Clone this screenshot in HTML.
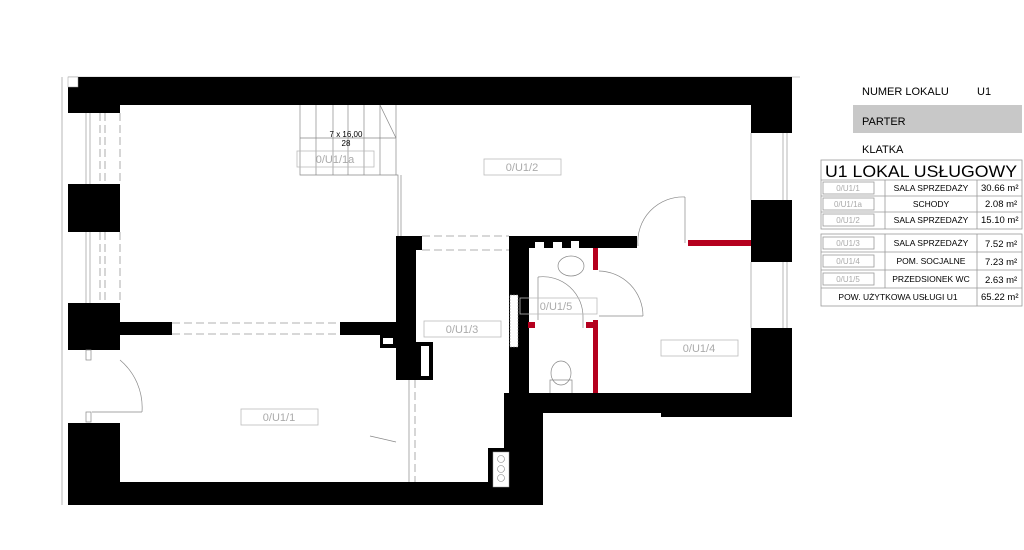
<!DOCTYPE html>
<html><head><meta charset="utf-8"><style>
body{margin:0;background:#fff;width:1024px;height:545px;overflow:hidden;font-family:"Liberation Sans",sans-serif}
</style></head><body>
<svg width="1024" height="545" viewBox="0 0 1024 545" xmlns="http://www.w3.org/2000/svg" font-family="Liberation Sans, sans-serif">
<line x1="68" y1="77" x2="800" y2="77" stroke="#999" stroke-width="0.6"/>
<g fill="#000">
<rect x="68" y="77" width="724" height="28"/>
<rect x="68" y="77" width="52" height="36"/>
<rect x="68" y="184" width="52" height="48"/>
<rect x="68" y="303" width="52" height="47"/>
<rect x="68" y="423" width="52" height="82"/>
<rect x="68" y="482" width="475" height="23"/>
<rect x="751" y="77" width="41" height="56"/>
<rect x="751" y="200" width="41" height="62"/>
<rect x="751" y="328" width="41" height="89"/>
<rect x="504" y="393" width="288" height="20"/>
<rect x="661" y="410" width="131" height="7"/>
<rect x="504" y="393" width="39" height="112"/>
<rect x="488" y="448" width="55" height="57"/>
<rect x="120" y="322" width="52" height="13"/>
<rect x="340" y="322" width="58" height="13"/>
<rect x="396" y="236" width="20" height="144"/>
<rect x="396" y="236" width="26" height="14"/>
<rect x="416" y="342" width="17" height="38"/>
<rect x="380" y="335" width="16" height="13"/>
<rect x="509" y="236" width="20" height="160"/>
<rect x="509" y="236" width="128" height="12"/>
</g>
<rect x="68" y="77" width="10" height="10" fill="#fff" stroke="#999" stroke-width="0.5"/>
<rect x="421" y="346" width="8" height="30" fill="#fff"/>
<rect x="383" y="338" width="10" height="6" fill="#fff"/>
<rect x="493" y="452" width="16" height="35" fill="#fff" stroke="#999" stroke-width="0.5"/>
<circle cx="501" cy="459" r="3.5" fill="none" stroke="#888" stroke-width="0.6"/>
<circle cx="501" cy="469" r="3.5" fill="none" stroke="#888" stroke-width="0.6"/>
<circle cx="501" cy="478" r="3.5" fill="none" stroke="#888" stroke-width="0.6"/>
<rect x="535" y="242" width="9" height="7" fill="#fff"/>
<rect x="553" y="242" width="9" height="7" fill="#fff"/>
<rect x="571" y="241" width="8" height="9" fill="#fff"/>
<rect x="510" y="295" width="8" height="52" fill="#fff" stroke="#888" stroke-width="0.5" stroke-dasharray="2 1"/>
<g stroke="#999" stroke-width="0.7" fill="none">
<line x1="86" y1="113" x2="86" y2="184"/><line x1="90" y1="113" x2="90" y2="184"/>
<line x1="86" y1="232" x2="86" y2="303"/><line x1="90" y1="232" x2="90" y2="303"/>
<line x1="62" y1="77" x2="62" y2="505"/>
<line x1="783" y1="133" x2="783" y2="200"/><line x1="787" y1="133" x2="787" y2="200"/>
<line x1="783" y1="262" x2="783" y2="328"/><line x1="787" y1="262" x2="787" y2="328"/>
<line x1="751" y1="133" x2="751" y2="200"/><line x1="751" y1="262" x2="751" y2="328"/>
</g>
<g stroke="#999" stroke-width="0.8" stroke-dasharray="8 4" fill="none">
<line x1="100" y1="113" x2="100" y2="184"/><line x1="105" y1="113" x2="105" y2="184"/><line x1="120" y1="113" x2="120" y2="184"/>
<line x1="100" y1="232" x2="100" y2="303"/><line x1="105" y1="232" x2="105" y2="303"/><line x1="120" y1="232" x2="120" y2="303"/>
<line x1="172" y1="323" x2="340" y2="323"/><line x1="172" y1="334" x2="340" y2="334"/>
<line x1="422" y1="236" x2="509" y2="236"/><line x1="422" y1="250" x2="509" y2="250"/>
<line x1="415" y1="380" x2="415" y2="482"/>
</g>
<g stroke="#888" stroke-width="0.7" fill="none">
<path d="M300 105 V175 H398 V236"/><line x1="401" y1="175" x2="401" y2="236"/>
<line x1="316" y1="105" x2="316" y2="175"/><line x1="333" y1="105" x2="333" y2="175"/>
<line x1="348" y1="105" x2="348" y2="175"/><line x1="364" y1="105" x2="364" y2="175"/>
<line x1="380" y1="105" x2="380" y2="175"/><line x1="396" y1="105" x2="396" y2="175"/>
<line x1="380" y1="105" x2="396" y2="138"/><line x1="300" y1="138" x2="396" y2="138"/>
<line x1="409" y1="380" x2="409" y2="482"/>
<line x1="370" y1="436" x2="396" y2="442"/>
<path d="M120 360 A62 62 0 0 1 142 412"/><line x1="92" y1="412" x2="142" y2="412"/>
<rect x="86" y="350" width="5" height="10"/><rect x="86" y="412" width="5" height="10"/>
<path d="M638 246 A45 45 0 0 1 685 197"/><line x1="685" y1="197" x2="685" y2="243"/>
<path d="M599 271 A45 45 0 0 1 643 316"/><line x1="599" y1="316" x2="643" y2="316"/>
<path d="M538 277 A40 40 0 0 1 583 318"/><line x1="538" y1="277" x2="538" y2="320"/><line x1="583" y1="318" x2="583" y2="328"/>
<ellipse cx="571" cy="266" rx="13" ry="10"/>
<ellipse cx="561" cy="373" rx="10" ry="12"/><path d="M550 393 V380 H572 V393"/>
</g>
<g fill="#b5001e">
<rect x="688" y="240" width="63" height="6"/>
<rect x="593" y="248" width="5" height="22"/>
<rect x="593" y="320" width="5" height="73"/>
<rect x="528" y="322" width="7" height="6"/>
<rect x="586" y="322" width="7" height="6"/>
</g>
<g fill="none" stroke="#bbb" stroke-width="0.8">
<rect x="297" y="151" width="77" height="16"/>
<rect x="484" y="159" width="77" height="16"/>
<rect x="424" y="321" width="77" height="16"/>
<rect x="520" y="298" width="77" height="16"/>
<rect x="661" y="340" width="77" height="16"/>
<rect x="241" y="409" width="77" height="16"/>
</g>
<g fill="#aaa" font-size="11" text-anchor="middle">
<text x="335" y="163">0/U1/1a</text>
<text x="522" y="171">0/U1/2</text>
<text x="462" y="333">0/U1/3</text>
<text x="556" y="310">0/U1/5</text>
<text x="699" y="352">0/U1/4</text>
<text x="279" y="421">0/U1/1</text>
</g>
<g fill="#000" font-size="8" text-anchor="middle">
<text x="346" y="137">7 x 16,00</text><text x="346" y="146">28</text>
</g>
<rect x="853" y="105" width="169" height="28" fill="#c8c8c8"/>
<g font-size="11" fill="#000">
<text x="862" y="95">NUMER LOKALU</text><text x="977" y="95">U1</text>
<text x="862" y="125">PARTER</text>
<text x="862" y="153">KLATKA</text>
</g>
<g fill="none" stroke="#999" stroke-width="0.8">
<rect x="821" y="160" width="201" height="69"/>
<line x1="821" y1="180" x2="1022" y2="180"/>
<line x1="821" y1="196" x2="1022" y2="196"/><line x1="821" y1="212" x2="1022" y2="212"/>
<line x1="885" y1="180" x2="885" y2="229"/><line x1="977" y1="180" x2="977" y2="229"/>
<rect x="821" y="234" width="201" height="72"/>
<line x1="821" y1="252" x2="1022" y2="252"/><line x1="821" y1="270" x2="1022" y2="270"/><line x1="821" y1="288" x2="1022" y2="288"/>
<line x1="885" y1="234" x2="885" y2="288"/><line x1="977" y1="234" x2="977" y2="306"/>
<rect x="823" y="182" width="51" height="12"/><rect x="823" y="198" width="51" height="12"/><rect x="823" y="214" width="51" height="12"/>
<rect x="823" y="237" width="51" height="12"/><rect x="823" y="255" width="51" height="12"/><rect x="823" y="273" width="51" height="12"/>
</g>
<text x="825" y="177" font-size="17" fill="#000" textLength="192" lengthAdjust="spacingAndGlyphs">U1 LOKAL USŁUGOWY</text>
<g font-size="8" fill="#aaa" text-anchor="middle">
<text x="848" y="191">0/U1/1</text><text x="848" y="207">0/U1/1a</text><text x="848" y="223">0/U1/2</text>
<text x="848" y="246">0/U1/3</text><text x="848" y="264">0/U1/4</text><text x="848" y="282">0/U1/5</text>
</g>
<g font-size="8.5" fill="#000" text-anchor="middle">
<text x="931" y="191">SALA SPRZEDAŻY</text><text x="931" y="207">SCHODY</text><text x="931" y="223">SALA SPRZEDAŻY</text>
<text x="931" y="246">SALA SPRZEDAŻY</text><text x="931" y="264">POM. SOCJALNE</text><text x="931" y="282">PRZEDSIONEK  WC</text>
<text x="898" y="300">POW. UŻYTKOWA USŁUGI U1</text>
</g>
<g font-size="9.5" fill="#000">
<text x="981" y="191">30.66 m²</text><text x="985" y="207">2.08 m²</text><text x="981" y="223">15.10 m²</text>
<text x="985" y="247">7.52 m²</text><text x="985" y="265">7.23 m²</text><text x="985" y="283">2.63 m²</text>
<text x="981" y="300">65.22 m²</text>
</g>
</svg>
</body></html>
